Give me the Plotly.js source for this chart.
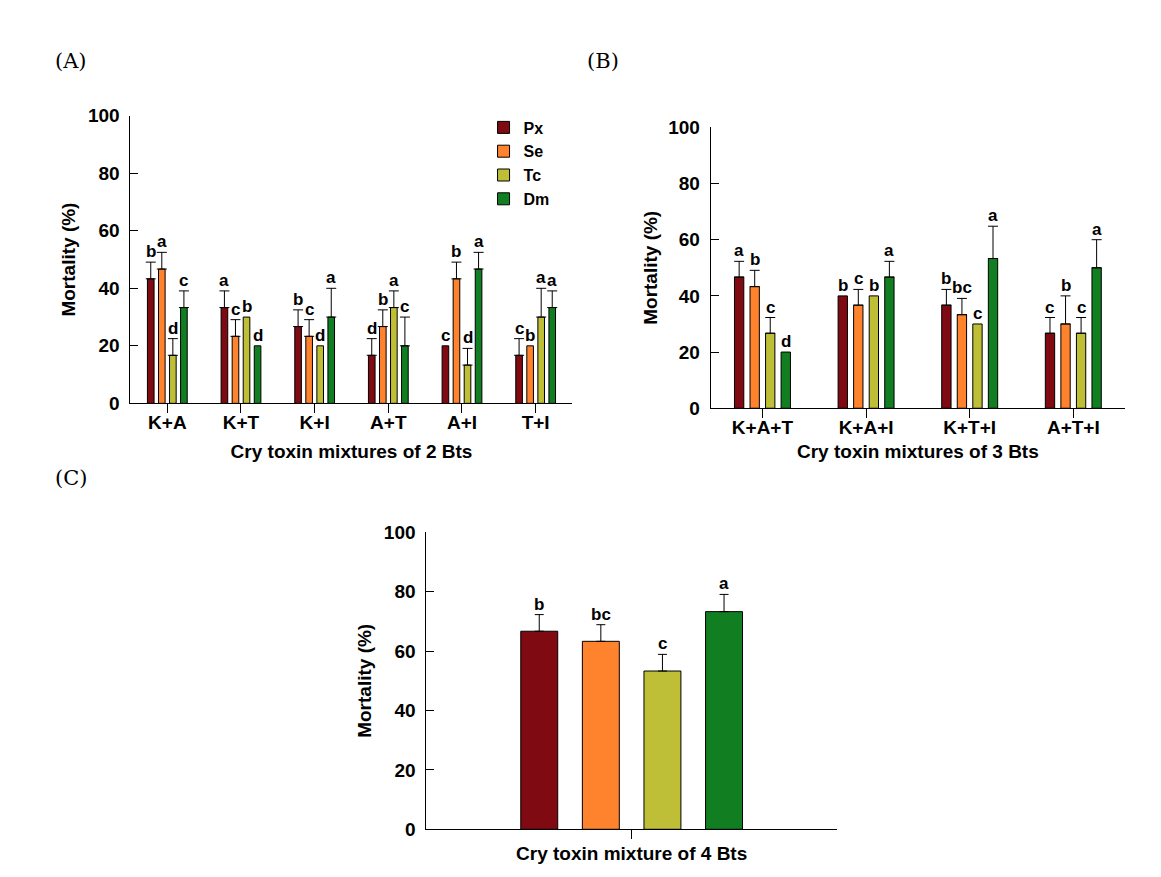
<!DOCTYPE html>
<html><head><meta charset="utf-8">
<script src="https://cdn.plot.ly/plotly-3.0.1.min.js"></script>
<style>html,body{margin:0;padding:0;background:#fff}</style>
</head><body><div id="chart" style="width:1161px;height:877px"></div>
<script>
// ---------- data ----------
const seriesNames = ['Px', 'Se', 'Tc', 'Dm'];
const seriesColors = ['#7f0a11', '#ff822c', '#bfbf37', '#117f21'];

// (A) mixtures of 2 Bts
const catsA = ['K+A', 'K+T', 'K+I', 'A+T', 'A+I', 'T+I'];
const pxA = [43.3, 33.3, 26.7, 16.7, 20.0, 16.7];
const seA = [46.7, 23.3, 23.3, 26.7, 43.3, 20.0];
const tcA = [16.7, 30.0, 20.0, 33.3, 13.3, 30.0];
const dmA = [33.3, 20.0, 30.0, 20.0, 46.7, 33.3];
const pxAerr = [5.8, 5.8, 5.8, 5.8, null, 5.8];
const seAerr = [5.8, 5.8, 5.8, 5.8, 5.8, null];
const tcAerr = [5.8, null, null, 5.8, 5.8, 10.0];
const dmAerr = [5.8, null, 10.0, 10.0, 5.8, 5.8];
const pxAlet = ['b', 'a', 'b', 'd', 'c', 'c'];
const seAlet = ['a', 'c', 'c', 'b', 'b', 'b'];
const tcAlet = ['d', 'b', 'd', 'a', 'd', 'a'];
const dmAlet = ['c', 'd', 'a', 'c', 'a', 'a'];

// (B) mixtures of 3 Bts
const catsB = ['K+A+T', 'K+A+I', 'K+T+I', 'A+T+I'];
const pxB = [46.7, 40.0, 36.7, 26.7];
const seB = [43.3, 36.7, 33.3, 30.0];
const tcB = [26.7, 40.0, 30.0, 26.7];
const dmB = [20.0, 46.7, 53.3, 50.0];
const pxBerr = [5.6, null, 5.6, 5.6];
const seBerr = [5.8, 5.6, 5.8, 10.0];
const tcBerr = [5.6, null, null, 5.6];
const dmBerr = [null, 5.6, 11.5, 10.0];
const pxBlet = ['a', 'b', 'b', 'c'];
const seBlet = ['b', 'c', 'bc', 'b'];
const tcBlet = ['c', 'b', 'c', 'c'];
const dmBlet = ['d', 'a', 'a', 'a'];

// (C) mixture of 4 Bts
const catsC = ['4 Bts'];
const pxC = [66.7];
const seC = [63.3];
const tcC = [53.3];
const dmC = [73.3];
const pxCerr = [5.6];
const seCerr = [5.6];
const tcCerr = [5.6];
const dmCerr = [5.8];
const pxClet = ['b'];
const seClet = ['bc'];
const tcClet = ['c'];
const dmClet = ['a'];

// ---------- build ----------
const BARGAP = 0.4, GROUPGAP = 0.4;
const slot = (1 - BARGAP) / seriesNames.length;
const boldFamily = 'Liberation Sans, Arial, sans-serif';
const tickFont = {family: boldFamily, size: 19, color: '#000', weight: 'bold'};
const titleFont = {family: boldFamily, size: 19, color: '#000', weight: 'bold'};
const letterFont = {family: boldFamily, size: 17, color: '#000', weight: 'bold'};

const panels = [
  {cats: catsA, vals: [pxA, seA, tcA, dmA], errs: [pxAerr, seAerr, tcAerr, dmAerr],
   lets: [pxAlet, seAlet, tcAlet, dmAlet], xa: 'x', ya: 'y', legend: true, capw: 5},
  {cats: catsB, vals: [pxB, seB, tcB, dmB], errs: [pxBerr, seBerr, tcBerr, dmBerr],
   lets: [pxBlet, seBlet, tcBlet, dmBlet], xa: 'x2', ya: 'y2', legend: false, capw: 5},
  {cats: catsC, vals: [pxC, seC, tcC, dmC], errs: [pxCerr, seCerr, tcCerr, dmCerr],
   lets: [pxClet, seClet, tcClet, dmClet], xa: 'x3', ya: 'y3', legend: false, capw: 4.5}
];

const traces = [];
const annotations = [];
panels.forEach(p => {
  seriesNames.forEach((name, k) => {
    const e = p.errs[k];
    traces.push({
      type: 'bar', name: name, x: p.cats, y: p.vals[k],
      xaxis: p.xa, yaxis: p.ya, showlegend: p.legend,
      marker: {color: seriesColors[k], line: {color: '#000', width: 1}},
      error_y: {type: 'data', symmetric: false,
        array: e.map(v => v === null ? NaN : v),
        arrayminus: e.map(v => v === null ? NaN : 0),
        color: '#000', thickness: 1, width: p.capw},
      hoverinfo: 'skip'
    });
    p.cats.forEach((c, i) => {
      annotations.push({
        xref: p.xa, yref: p.ya,
        x: i + (k - (seriesNames.length - 1) / 2) * slot,
        y: p.vals[k][i] + (e[i] === null ? 0 : e[i]),
        text: p.lets[k][i], showarrow: false,
        xanchor: 'center', yanchor: 'bottom', yshift: -1,
        font: letterFont
      });
    });
  });
});

function panelLabel(text, x, y) {
  return {xref: 'paper', yref: 'paper', x: x, y: y, xanchor: 'left', yanchor: 'middle',
    text: text, showarrow: false, font: {family: 'DejaVu Serif, serif', size: 21, color: '#000'}};
}
annotations.push(panelLabel('(A)', 0.046, 0.930));
annotations.push(panelLabel('(B)', 0.504, 0.930));
annotations.push(panelLabel('(C)', 0.046, 0.455));

function xAxis(domain, anchor, n, title, standoff, labels) {
  return {domain: domain, anchor: anchor, type: 'category', range: [-0.5, n - 0.5],
    showline: true, linecolor: '#000', linewidth: 1, mirror: false,
    ticks: 'outside', ticklen: 9, tickwidth: 1, tickcolor: '#000', ticklabelstandoff: -7,
    showticklabels: labels, tickfont: tickFont, showgrid: false, zeroline: false,
    title: {text: title, font: titleFont, standoff: standoff}, fixedrange: true};
}
function yAxis(domain, anchor, standoff) {
  return {domain: domain, anchor: anchor, range: [0, 100], tickmode: 'linear', tick0: 0, dtick: 20,
    showline: true, linecolor: '#000', linewidth: 1,
    ticks: 'inside', ticklen: 8, tickwidth: 1, tickcolor: '#000', ticklabelstandoff: 6,
    tickfont: tickFont, showgrid: false, zeroline: false,
    title: {text: 'Mortality (%)', font: titleFont, standoff: standoff}, fixedrange: true};
}

const layout = {
  width: 1161, height: 877,
  margin: {l: 0, r: 0, t: 0, b: 0},
  paper_bgcolor: '#fff', plot_bgcolor: 'rgba(0,0,0,0)',
  barmode: 'group', bargap: BARGAP, bargroupgap: GROUPGAP,
  showlegend: true,
  legend: {x: 0.4165, y: 0.874, xanchor: 'left', yanchor: 'top',
    font: {family: boldFamily, size: 16, color: '#000', weight: 'bold'},
    bgcolor: 'rgba(0,0,0,0)', borderwidth: 0, tracegroupgap: 0},
  xaxis: xAxis([0.1124, 0.4931], 'y', catsA.length, 'Cry toxin mixtures of 2 Bts', 12, true),
  yaxis: yAxis([0.5401, 0.8680], 'x', 7),
  xaxis2: xAxis([0.6121, 0.9691], 'y2', catsB.length, 'Cry toxin mixtures of 3 Bts', 7, true),
  yaxis2: yAxis([0.5345, 0.8548], 'x2', 5),
  xaxis3: xAxis([0.3672, 0.7209], 'y3', catsC.length, 'Cry toxin mixture of 4 Bts', 8, false),
  yaxis3: yAxis([0.0544, 0.3930], 'x3', 7),
  annotations: annotations
};

Plotly.newPlot('chart', traces, layout, {displayModeBar: false, staticPlot: true});
</script>
</body></html>
